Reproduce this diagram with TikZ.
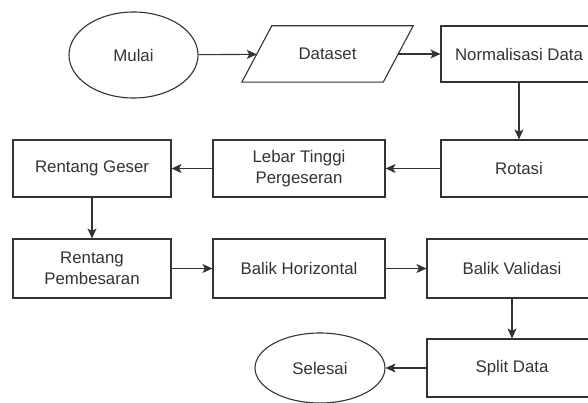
\documentclass[tikz,border=0pt]{standalone}
\usepackage{fontspec}
\setmainfont{Liberation Sans}
\usetikzlibrary{shapes.geometric,arrows.meta,calc}
\tikzset{
  every node/.style={font=\fontsize{16.8}{21}\selectfont, text=black!80, align=center, inner sep=0pt},
  lineset/.style={draw=black!80, line width=1.1pt},
  procbox/.style={lineset, rectangle, minimum width=#1},
  termbox/.style={lineset, ellipse},
  flow/.style={lineset, -{Stealth[length=10pt,width=9pt,inset=2.5pt]}}
}
\begin{document}
\begin{tikzpicture}[x=1pt,y=-1pt]
\useasboundingbox (0,0) rectangle (588,403);
\clip (0,0) rectangle (588,403);
\fill[white] (0,0) rectangle (588,403);
\node[termbox, minimum width=129pt, minimum height=86pt] (mulai) at (133.5,55) {Mulai};
\node[rectangle, minimum width=141pt, minimum height=56pt] (dataset) at (327.5,54) {Dataset};
\draw[lineset, line join=miter]
  ($(dataset.south west)+(-15pt,0)$) -- ($(dataset.north west)+(15pt,0)$)
  -- ($(dataset.north east)+(15pt,0)$) -- ($(dataset.south east)+(-15pt,0)$) -- cycle;
\node[procbox=156pt, minimum height=56pt] (norm) at (519,54) {Normalisasi Data};
\node[procbox=156pt, minimum height=57pt] (rotasi) at (519,168.5) {Rotasi};
\node[procbox=172pt, minimum height=57pt] (lebar) at (299,168.5) {Lebar Tinggi\\Pergeseran};
\node[procbox=158pt, minimum height=57pt] (geser) at (92,168.5) {Rentang Geser};
\node[procbox=158pt, minimum height=59pt] (besar) at (92,268.5) {Rentang\\Pembesaran};
\node[procbox=172pt, minimum height=59pt] (balikh) at (299,268.5) {Balik Horizontal};
\node[procbox=170pt, minimum height=59pt] (balikv) at (512,268.5) {Balik Validasi};
\node[procbox=170pt, minimum height=58pt] (split) at (512,368) {Split Data};
\node[termbox, minimum width=130pt, minimum height=70pt] (selesai) at (320,368) {Selesai};
\draw[flow] (mulai) -- (dataset);
\draw[flow] (dataset) -- (norm);
\draw[flow] (norm) -- (rotasi);
\draw[flow] (rotasi) -- (lebar);
\draw[flow] (lebar) -- (geser);
\draw[flow] (geser) -- (besar);
\draw[flow] (besar) -- (balikh);
\draw[flow] (balikh) -- (balikv);
\draw[flow] (balikv) -- (split);
\draw[flow] (split) -- (selesai);
\end{tikzpicture}
\end{document}
